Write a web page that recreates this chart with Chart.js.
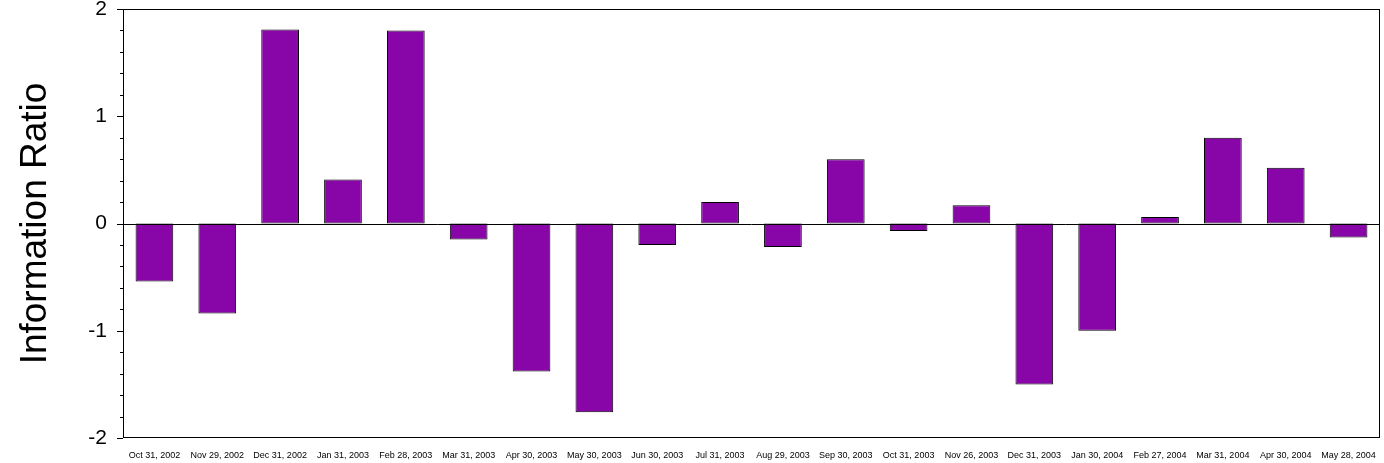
<!DOCTYPE html>
<html>
<head>
<meta charset="utf-8">
<script src="https://cdn.jsdelivr.net/npm/chart.js@4"></script>
<style>
  html, body { margin: 0; padding: 0; background: #fff; }
  #wrap { width: 1384px; height: 463px; }
</style>
</head>
<body>
<div id="wrap"><canvas id="irChart"></canvas></div>
<script>
const periods = ['Oct 31, 2002', 'Nov 29, 2002', 'Dec 31, 2002', 'Jan 31, 2003', 'Feb 28, 2003',
    'Mar 31, 2003', 'Apr 30, 2003', 'May 30, 2003', 'Jun 30, 2003', 'Jul 31, 2003',
    'Aug 29, 2003', 'Sep 30, 2003', 'Oct 31, 2003', 'Nov 26, 2003', 'Dec 31, 2003',
    'Jan 30, 2004', 'Feb 27, 2004', 'Mar 31, 2004', 'Apr 30, 2004', 'May 28, 2004'];
const infoRatio = [-0.54, -0.84, 1.81, 0.41, 1.80, -0.15, -1.38, -1.76, -0.20, 0.20,
    -0.22, 0.60, -0.07, 0.17, -1.50, -1.00, 0.06, 0.80, 0.52, -0.13];
const yTicks = [-2, -1, 0, 1, 2];

// frame, zero line and minor ticks on the value axis
const framePlugin = {
    id: 'frame',
    afterDatasetsDraw(chart) {
        const { ctx, chartArea: a, scales: { y } } = chart;
        ctx.save();
        ctx.strokeStyle = '#000';
        ctx.lineWidth = 1;
        ctx.strokeRect(a.left + 0.5, a.top + 0.5, a.right - a.left - 1, a.bottom - a.top - 1);
        const z = Math.round(y.getPixelForValue(0)) + 0.5;
        ctx.beginPath();
        ctx.moveTo(a.left, z);
        ctx.lineTo(a.right, z);
        for (let v = -2; v <= 2.001; v += 0.2) {
            const py = Math.round(y.getPixelForValue(v)) + 0.5;
            const major = Math.abs(v - Math.round(v)) < 0.01;
            ctx.moveTo(a.left, py);
            ctx.lineTo(a.left - (major ? 6 : 3), py);
        }
        ctx.stroke();
        ctx.restore();
    }
};

new Chart(document.getElementById('irChart').getContext('2d'), {
    type: 'bar',
    data: {
        labels: periods,
        datasets: [{
            data: infoRatio,
            backgroundColor: '#8806A8',
            borderColor: '#000',
            borderWidth: 1,
            borderSkipped: false,
            categoryPercentage: 1,
            barPercentage: 0.6
        }]
    },
    options: {
        responsive: true,
        maintainAspectRatio: false,
        animation: false,
        layout: { padding: { top: 9, right: 4, left: 0, bottom: 0 } },
        plugins: { legend: { display: false }, tooltip: { enabled: false } },
        scales: {
            x: {
                grid: { display: false },
                border: { display: false },
                ticks: {
                    color: '#000', maxRotation: 0, autoSkip: false,
                    font: { family: 'Liberation Sans', size: 9 }, padding: 4
                },
                afterFit(s) { s.height = 25; }
            },
            y: {
                min: -2, max: 2,
                afterBuildTicks(s) { s.ticks = yTicks.map(v => ({ value: v })); },
                grid: { display: false },
                border: { display: false },
                ticks: { color: '#000', font: { family: 'Liberation Sans', size: 21 }, padding: 8 },
                title: {
                    display: true, text: 'Information Ratio', color: '#000',
                    font: { family: 'Liberation Sans', size: 37 }, padding: { top: 14, bottom: 20 }
                },
                afterFit(s) { s.width = 123; s.paddingTop = 0; s.paddingBottom = 0; }
            }
        }
    },
    plugins: [framePlugin]
});
</script>
</body>
</html>
